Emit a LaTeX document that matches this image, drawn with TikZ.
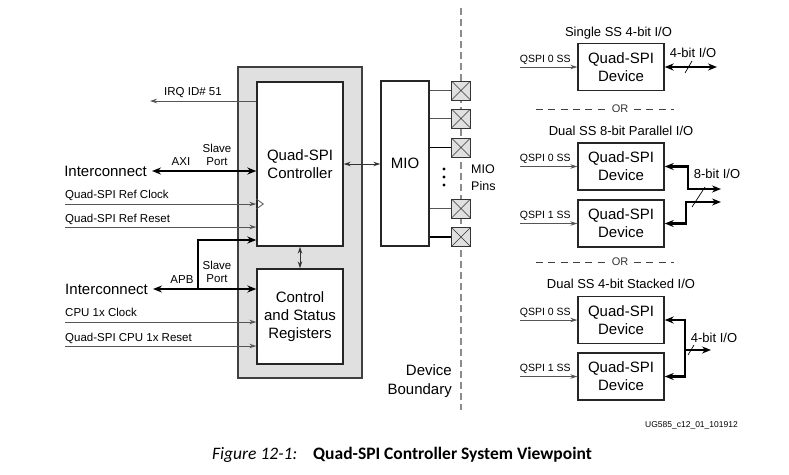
\documentclass[tikz,border=0pt]{standalone}
\usepackage{fontspec}
\setmainfont{Liberation Sans}
\newfontfamily\capfont{Carlito}
\usetikzlibrary{arrows.meta}
\newcommand\fsz[2]{\fontsize{#1}{#2}\selectfont}
\definecolor{grpfill}{RGB}{224,224,224}
\definecolor{lngray}{RGB}{85,85,85}
\definecolor{bndgray}{RGB}{140,140,140}
\tikzset{
  >={Stealth[length=9pt,width=7pt]},
  blk/.style={draw=black!85,line width=1.4pt,fill=white,align=center,font=\fsz{15}{18}},
  grp/.style={draw=black!75,line width=1.8pt,fill=grpfill},
  pin/.style={draw=black!80,line width=1pt,fill=grpfill,minimum size=19pt,inner sep=0pt,
    path picture={\draw[black!80,line width=.6pt]
      (path picture bounding box.north west)--(path picture bounding box.south east)
      (path picture bounding box.south west)--(path picture bounding box.north east);}},
  sig/.style={draw=lngray,line width=.8pt,-{Stealth[length=7pt,width=4.5pt]}},
  dsig/.style={draw=black!80,line width=.8pt,{Stealth[length=7pt,width=4.5pt]}-{Stealth[length=7pt,width=4.5pt]}},
  thk/.style={draw=black,line width=2.6pt},
  lbl/.style={font=\fsz{11.5}{13},inner sep=0pt,align=center},
  ic/.style={font=\fsz{15}{18},inner sep=5pt},
  sslbl/.style={font=\fsz{10.5}{12},inner sep=2.5pt},
  ttl/.style={font=\fsz{13}{15},inner sep=0pt},
  ordash/.style={draw=black!75,line width=.9pt,dash pattern=on 7pt off 5.3pt},
}
\begin{document}
\begin{tikzpicture}[x=1pt,y=-1pt]
\useasboundingbox (0,0) rectangle (789,474);
% processing system side
\node[grp,minimum width=124pt,minimum height=311pt] (ps) at (300,222.5) {};
\node[blk,minimum width=86pt,minimum height=164pt] (ctrl) at (300,164) {Quad-SPI\\Controller};
\node[blk,minimum width=86pt,minimum height=95pt] (csr) at (300,316.5) {Control\\and Status\\Registers};
\node[blk,minimum width=48pt,minimum height=165pt] (mio) at (405,163.5) {MIO};
\draw[dsig] (ctrl.south) -- (csr.north);
\draw[dsig] (ctrl.east) -- (ctrl.east -| mio.west);
% device boundary and pins
\draw[bndgray,line width=1.2pt,dash pattern=on 7pt off 4pt] (461,8) -- (461,410);
\foreach \i/\y/\c in {1/90.5/lngray,2/118.5/lngray,3/147.5/black,4/208.5/lngray,5/237/black}{
  \node[pin] (p\i) at (461,\y) {};
  \draw[\c,line width=1.1pt] (p\i.west -| mio.east) -- (p\i.west);
}
\foreach \y in {169,177,185}{\fill (444,\y) circle (1.6pt);}
\node[font=\fsz{12.5}{16.5},inner sep=0pt,anchor=west,align=left] (pinlbl) at (471,177.5) {MIO\\Pins};
\node[font=\fsz{15}{19},inner sep=0pt,anchor=east,align=right] (bnd) at (452,381.5) {Device\\Boundary};
% left side signals
\coordinate (irq) at (150,101);
\draw[sig] (irq -| ctrl.west) -- (irq);
\node[lbl,anchor=base] (irqlbl) at (193,95) {IRQ ID\# 51};
\node[ic,anchor=east] (icaxi) at (152,171) {Interconnect};
\draw[thk,<->] (icaxi.east) -- (icaxi.east -| ctrl.west);
\node[lbl,anchor=base] (axi) at (181,165) {AXI};
\node[lbl] (spaxi) at (217,154.5) {Slave\\Port};
\coordinate (clk) at (65,204);
\coordinate (rst) at (65,227);
\draw[sig] (clk) -- (clk -| ctrl.west);
\draw[sig] (rst) -- (rst -| ctrl.west);
\coordinate (clkpt) at (clk -| ctrl.west);
\draw[lngray,line width=.8pt] ([yshift=5pt]clkpt) -- ([xshift=7pt]clkpt) -- ([yshift=-5pt]clkpt);
\node[lbl,anchor=base west] (clklbl) at (65,198) {Quad-SPI Ref Clock};
\node[lbl,anchor=base west] (rstlbl) at (65,222) {Quad-SPI Ref Reset};
\node[ic,anchor=east] (icapb) at (153,289) {Interconnect};
\draw[thk,<->] (icapb.east) -- (icapb.east -| csr.west);
\coordinate (apbsplit) at (198,289);
\coordinate (apbtop) at (198,240);
\draw[thk,->] (apbsplit) -- (apbtop) -- (apbtop -| ctrl.west);
\node[lbl,anchor=base] (apb) at (182,283) {APB};
\node[lbl] (spapb) at (217,271.5) {Slave\\Port};
\coordinate (cclk) at (65,322);
\coordinate (crst) at (65,346);
\draw[sig] (cclk) -- (cclk -| csr.west);
\draw[sig] (crst) -- (crst -| csr.west);
\node[lbl,anchor=base west] (cclklbl) at (65,316) {CPU 1x Clock};
\node[lbl,anchor=base west] (crstlbl) at (65,341) {Quad-SPI CPU 1x Reset};
% flash devices
\node[ttl] (t1) at (618.5,33) {Single SS 4-bit I/O};
\node[ttl] (t2) at (621,131) {Dual SS 8-bit Parallel I/O};
\node[ttl] (t3) at (621,284) {Dual SS 4-bit Stacked I/O};
\foreach \n/\y/\s in {d1/67/0,d2/166.5/0,d3/223.5/1,d4/320/0,d5/376.5/1}{
  \node[blk,minimum width=86pt,minimum height=47pt] (\n) at (621,\y) {Quad-SPI\\Device};
  \draw[sig] ([xshift=-57pt]\n.west) -- (\n.west);
  \node[sslbl,anchor=south] (\n ss) at ([xshift=-32pt]\n.west) {QSPI \s\ SS};
}
\foreach \k/\y in {1/109,2/262}{
  \node[font=\fsz{11}{13},inner sep=0pt,text=black!80] (or\k) at (620,\y) {OR};
  \draw[ordash] (536,\y) -- (605,\y);
  \draw[ordash] (634,\y) -- (674,\y);
}
% single 4-bit
\coordinate (io1) at (717,67);
\draw[thk,<->] (d1.east) -- (io1);
\draw[line width=.7pt] (685,73) -- (692,61);
\node[ttl] (io1lbl) at (693,53) {4-bit I/O};
% dual parallel 8-bit
\coordinate (pa1) at (688,189);
\coordinate (pa1o) at (721,189);
\coordinate (pa2) at (686,202);
\coordinate (pa2o) at (721,202);
\draw[thk,<->] (d2.east) -| (pa1) -- (pa1o);
\draw[thk,<->] (d3.east) -| (pa2) -- (pa2o);
\draw[line width=.7pt] (692,207) -- (705,187);
\node[ttl] (io2lbl) at (717,174) {8-bit I/O};
% dual stacked 4-bit
\coordinate (st) at (685,350);
\coordinate (sto) at (711,350);
\draw[thk,<->] (d4.east) -| (st) |- (d5.east);
\draw[thk,->] (st) -- (sto);
\draw[line width=.7pt] (688,355) -- (694,345);
\node[ttl] (io3lbl) at (714,338) {4-bit I/O};
% caption
\node[font=\fsz{8.5}{10},inner sep=0pt,anchor=east] (ug) at (738,425) {UG585\_c12\_01\_101912};
\node[font=\capfont\itshape\fsz{17.5}{20},inner sep=0pt,anchor=west] (capno) at (212,455) {Figure 12-1:};
\node[font=\capfont\bfseries\fsz{17.5}{20},inner sep=0pt,anchor=west] (captxt) at (313,455) {Quad-SPI Controller System Viewpoint};
\end{tikzpicture}
\end{document}
